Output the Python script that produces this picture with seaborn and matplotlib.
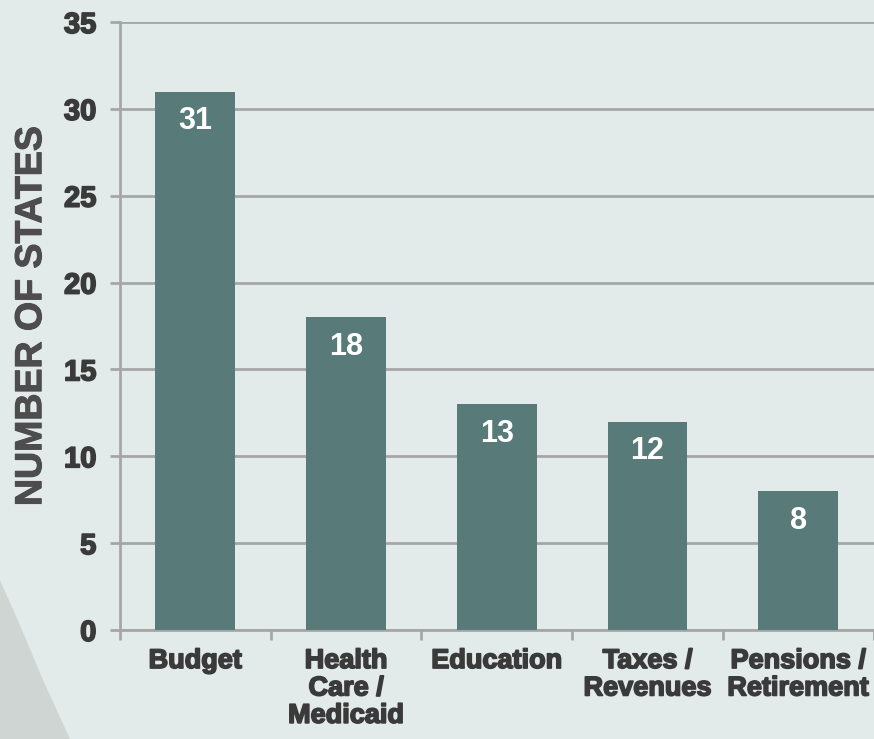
import numpy as np
import pandas as pd
import matplotlib
matplotlib.use("Agg")
import matplotlib.pyplot as plt
import matplotlib.patheffects as pe
from matplotlib.patches import Polygon
import seaborn as sns

categories = ["Budget", "Health\nCare /\nMedicaid", "Education", "Taxes /\nRevenues", "Pensions /\nRetirement"]
states = [31, 18, 13, 12, 8]
y_ticks = [0, 5, 10, 15, 20, 25, 30, 35]

bg = "#e3ebea"
bar_color = "#587a79"
grid_color = "#a6a6a6"
text_color = "#3a3a3a"

sns.set_style("white")
plt.rcParams["font.family"] = ["Liberation Sans", "DejaVu Sans"]

data = pd.DataFrame({"category": categories, "states": states})

fig = plt.figure(figsize=(8.74, 7.39), dpi=100, facecolor=bg)
# darker sweep in the lower-left corner
fig.patches.append(Polygon([(0, 0.215), (0.0229, 0.154), (0.0492, 0.0798), (0.0801, 0), (0, 0)],
                           closed=True, transform=fig.transFigure, facecolor="#cfd5d2",
                           edgecolor="none", zorder=0))

ax = fig.add_axes([0.1373, 0.1475, 0.8622, 0.8227])
ax.set_facecolor("none")

sns.barplot(data=data, x="category", y="states", color=bar_color, saturation=1,
            width=0.53, edgecolor="none", linewidth=0, ax=ax, zorder=3)

for i, v in enumerate(states):
    ax.annotate(str(v), xy=(i, v), xytext=(0, -21.5), textcoords="offset points",
                ha="center", va="center", color="white", fontsize=22, fontweight="bold",
                zorder=4)

ax.set_xlim(-0.5, len(categories) - 0.5)
ax.set_ylim(0, 35)
ax.set_yticks(y_ticks)
ax.yaxis.grid(True, color=grid_color, linewidth=2, zorder=0)
ax.set_axisbelow(True)

for side in ["top", "right"]:
    ax.spines[side].set_visible(False)
for side in ["left", "bottom"]:
    ax.spines[side].set_color(grid_color)
    ax.spines[side].set_linewidth(2)

ax.set_xticks(np.arange(-0.5, len(categories)), minor=True)
ax.tick_params(axis="x", which="major", bottom=False, length=0, pad=13, labelsize=19.5,
               labelcolor=text_color)
ax.tick_params(axis="x", which="minor", bottom=True, length=7, width=2, color=grid_color,
               direction="out")
ax.tick_params(axis="y", left=True, length=7, width=2, color=grid_color, pad=10, labelsize=21,
               labelcolor=text_color)
heavy = [pe.withStroke(linewidth=1.2, foreground=text_color)]
for lab in ax.get_xticklabels() + ax.get_yticklabels():
    lab.set_fontweight("bold")
    lab.set_linespacing(1.07)
    lab.set_path_effects(heavy)

ax.set_xlabel("")
ylab = ax.set_ylabel("NUMBER OF STATES", fontsize=27, fontweight="bold", color="#4d4d4d")
ylab.set_path_effects([pe.withStroke(linewidth=0.8, foreground="#4d4d4d")])
ax.yaxis.set_label_coords(-0.094, 0.516)

fig.savefig("out.png", dpi=100, facecolor=bg)
